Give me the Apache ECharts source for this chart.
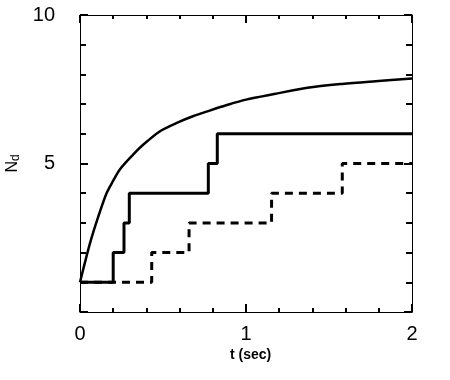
<!DOCTYPE html>
<html>
<head>
<meta charset="utf-8">
<script src="https://cdn.jsdelivr.net/npm/echarts@6/dist/echarts.min.js"></script>
<style>
  html, body { margin: 0; padding: 0; background: #fff; }
  #chart { width: 450px; height: 380px; }
</style>
</head>
<body>
<div id="chart"></div>
<script>
// smooth curve (mean)
var curveT = [0, 0.06, 0.11, 0.16, 0.2, 0.24, 0.32, 0.38, 0.48, 0.58, 0.68, 0.78, 0.88, 1.0, 1.17, 1.37, 1.58, 1.78, 2.0];
var curveN = [1, 2.31, 3.21, 4.0, 4.42, 4.8, 5.3, 5.63, 6.08, 6.36, 6.59, 6.78, 6.96, 7.15, 7.34, 7.55, 7.68, 7.77, 7.86];
// solid step run
var solidT = [0, 0.2, 0.265, 0.297, 0.773, 0.827, 2.0];
var solidN = [1, 2, 3, 4, 5, 6, 6];
// dashed step run
var dashT = [0, 0.432, 0.657, 1.154, 1.58, 2.0];
var dashN = [1, 2, 3, 4, 5, 5];

function pairs(xs, ys) {
    var out = [];
    for (var i = 0; i < xs.length; i++) out.push([xs[i], ys[i]]);
    return out;
}

var myChart = echarts.init(document.getElementById('chart'));
var font = 'Liberation Sans, Arial, sans-serif';
var blk = '#000';

var option = {
    animation: false,
    grid: { left: 80, right: 38, top: 15, bottom: 68, containLabel: false, outerBoundsMode: 'none' },
    xAxis: [
        {
            type: 'value', min: 0, max: 2, interval: 1, position: 'bottom',
            axisLine: { show: true, onZero: false, lineStyle: { color: blk, width: 1 } },
            axisTick: { show: true, inside: true, length: 8, lineStyle: { color: blk, width: 2 } },
            minorTick: { show: true, splitNumber: 5, length: 4, lineStyle: { color: blk, width: 2 } },
            axisLabel: { color: blk, fontSize: 20, fontFamily: font, margin: 12 },
            splitLine: { show: false }
        },
        {
            type: 'value', min: 0, max: 2, interval: 1, position: 'top',
            axisLine: { show: true, onZero: false, lineStyle: { color: blk, width: 1 } },
            axisTick: { show: true, inside: true, length: 8, lineStyle: { color: blk, width: 2 } },
            minorTick: { show: true, splitNumber: 5, length: 4, lineStyle: { color: blk, width: 2 } },
            axisLabel: { show: false },
            splitLine: { show: false }
        }
    ],
    yAxis: [
        {
            type: 'value', min: 0, max: 10, interval: 5, position: 'left',
            name: '{n|N}{s|d}', nameLocation: 'middle', nameGap: 58, nameRotate: 90,
            nameTextStyle: {
                rich: {
                    n: { fontSize: 16, fontFamily: font, color: blk },
                    s: { fontSize: 12, fontFamily: font, color: blk, verticalAlign: 'bottom', padding: [7, 0, 0, 0] }
                }
            },
            axisLine: { show: true, onZero: false, lineStyle: { color: blk, width: 1 } },
            axisTick: { show: true, inside: true, length: 8, lineStyle: { color: blk, width: 2 } },
            minorTick: { show: true, splitNumber: 5, length: 6, lineStyle: { color: blk, width: 2 } },
            axisLabel: {
                color: blk, fontSize: 20, fontFamily: font, margin: 25,
                formatter: function (v) { return v === 0 ? '' : v; }
            },
            splitLine: { show: false }
        },
        {
            type: 'value', min: 0, max: 10, interval: 5, position: 'right',
            axisLine: { show: true, onZero: false, lineStyle: { color: blk, width: 1 } },
            axisTick: { show: true, inside: true, length: 8, lineStyle: { color: blk, width: 2 } },
            minorTick: { show: true, splitNumber: 5, length: 6, lineStyle: { color: blk, width: 2 } },
            axisLabel: { show: false },
            splitLine: { show: false }
        }
    ],
    graphic: [
        {
            type: 'text', left: 230, top: 348,
            style: { text: 't (sec)', font: 'bold 14px ' + font, fill: blk }
        }
    ],
    series: [
        {
            type: 'line', data: pairs(curveT, curveN), smooth: 0.3, showSymbol: false,
            lineStyle: { color: blk, width: 2.5 }
        },
        {
            type: 'line', data: pairs(dashT, dashN), step: 'end', showSymbol: false,
            lineStyle: { color: blk, width: 3, type: [8, 6] }
        },
        {
            type: 'line', data: pairs(solidT, solidN), step: 'end', showSymbol: false,
            lineStyle: { color: blk, width: 3 }
        }
    ]
};
myChart.setOption(option);
window.onresize = function () { myChart.resize(); };
</script>
</body>
</html>
